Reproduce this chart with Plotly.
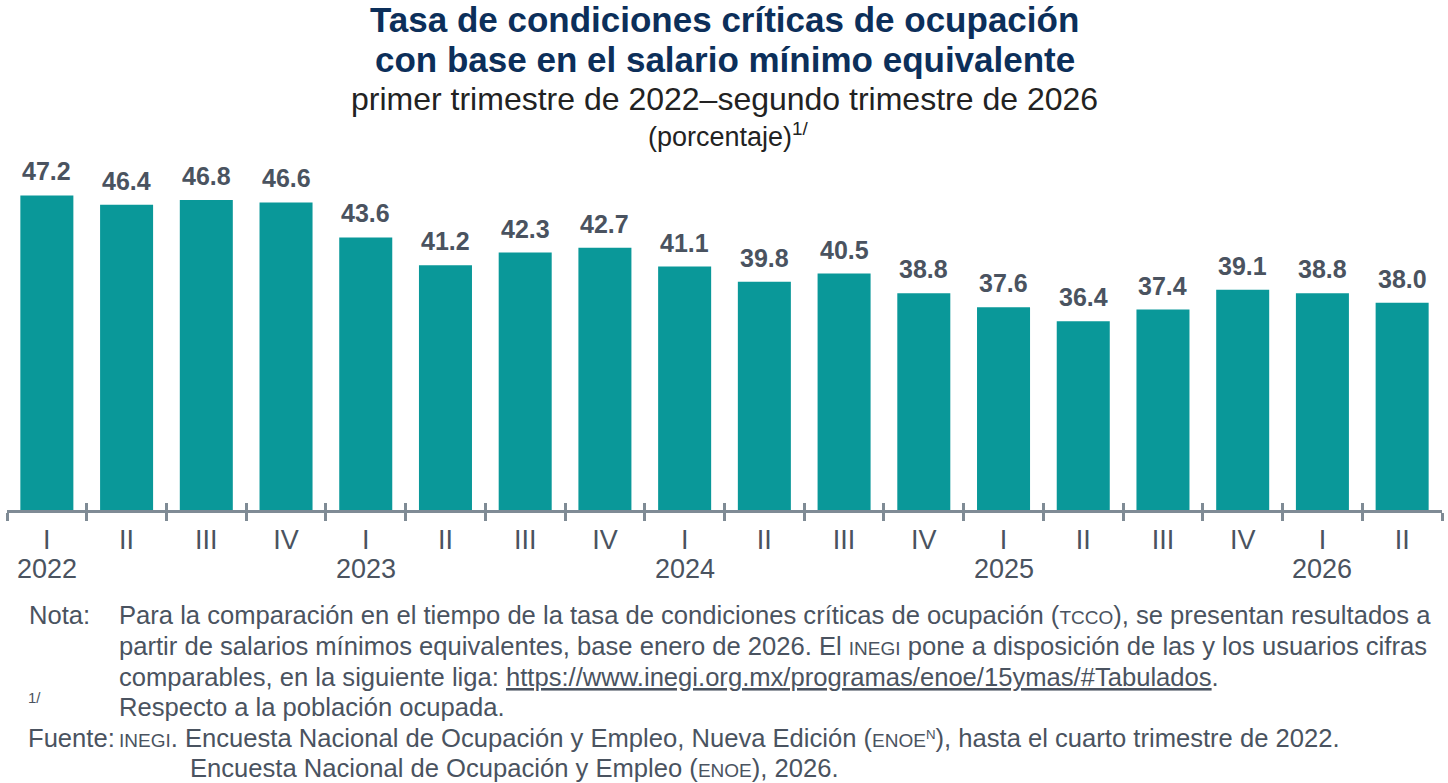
import plotly.graph_objects as go

quarters = ["I", "II", "III", "IV", "I", "II", "III", "IV", "I", "II", "III", "IV",
            "I", "II", "III", "IV", "I", "II"]
years = ["2022", "", "", "", "2023", "", "", "", "2024", "", "", "",
         "2025", "", "", "", "2026", ""]
values = [47.2, 46.4, 46.8, 46.6, 43.6, 41.2, 42.3, 42.7, 41.1, 39.8, 40.5, 38.8,
          37.6, 36.4, 37.4, 39.1, 38.8, 38.0]
year_of = ["2022"] * 4 + ["2023"] * 4 + ["2024"] * 4 + ["2025"] * 4 + ["2026"] * 2

categories = [f"{q} {y}" for q, y in zip(quarters, year_of)]

W, H = 1448, 783
L, R, T, B = 7, 6, 150, 273
PH = H - T - B
PW = W - L - R

BAR = "#0a9899"
AXIS = "#7f8b95"
TXT = "#4a5360"
NAVY = "#0c2f5a"
FONT = "Liberation Sans, Arial, sans-serif"


def py(p):
    return (H - B - p) / PH


def px(p):
    return (p - L) / PW


fig = go.Figure()
fig.add_trace(go.Bar(x=categories, y=values, marker=dict(color=BAR, line=dict(width=0)),
                     hoverinfo="x+y", showlegend=False))
fig.add_trace(go.Scatter(x=categories, y=values, xaxis="x2", mode="markers",
                         marker=dict(opacity=0), hoverinfo="skip", showlegend=False))

annotations = []
for c, v in zip(categories, values):
    annotations.append(dict(x=c, y=v, xref="x", yref="y", text=f"<b>{v:.1f}</b>",
                            showarrow=False, yanchor="bottom", yshift=8,
                            font=dict(family=FONT, size=25, color=TXT)))
for c, yr in zip(categories, years):
    if yr:
        annotations.append(dict(x=c, y=py(569), xref="x", yref="paper", text=yr,
                                showarrow=False, yanchor="middle",
                                font=dict(family=FONT, size=27, color=TXT)))


def add_text(text, x, y, size, color, xanchor="left", bold=False):
    annotations.append(dict(x=px(x), y=py(y), xref="paper", yref="paper",
                            text=(f"<b>{text}</b>" if bold else text), showarrow=False,
                            xanchor=xanchor, yanchor="middle",
                            font=dict(family=FONT, size=size, color=color)))


add_text("Tasa de condiciones críticas de ocupación", 725, 20, 35, NAVY, "center", True)
add_text("con base en el salario mínimo equivalente", 725, 59, 35, NAVY, "center", True)
add_text("primer trimestre de 2022–segundo trimestre de 2026", 725, 99, 32, "#222222", "center")
add_text("(porcentaje)<sup>1/</sup>", 728, 135, 27, "#222222", "center")

SC = '<span style="font-size:19px">'
NS = 25.6
add_text("Nota:", 27, 615, NS, TXT)
add_text("Para la comparación en el tiempo de la tasa de condiciones críticas de ocupación ("
         + SC + "TCCO</span>), se presentan resultados a", 117, 615, NS, TXT)
add_text("partir de salarios mínimos equivalentes, base enero de 2026. El " + SC
         + "INEGI</span> pone a disposición de las y los usuarios cifras", 117, 646, NS, TXT)
add_text("comparables, en la siguiente liga: <u>https://www.inegi.org.mx/programas/enoe/15ymas/#Tabulados</u>.",
         117, 677, NS, TXT)
add_text("1/", 26, 697, 15, TXT)
add_text("Respecto a la población ocupada.", 117, 707, NS, TXT)
add_text("Fuente:", 26, 738, NS, TXT)
add_text(SC + "INEGI</span>. Encuesta Nacional de Ocupación y Empleo, Nueva Edición ("
         + SC + "ENOE<sup>N</sup></span>), hasta el cuarto trimestre de 2022.", 117, 738, NS, TXT)
add_text("Encuesta Nacional de Ocupación y Empleo (" + SC + "ENOE</span>), 2026.",
         188, 768, NS, TXT)

fig.update_layout(
    width=W, height=H,
    margin=dict(l=L, r=R, t=T, b=B, pad=0),
    paper_bgcolor="white", plot_bgcolor="white",
    bargap=0.335,
    font=dict(family=FONT, color=TXT),
    xaxis=dict(type="category", categoryorder="array", categoryarray=categories,
               range=[-0.5, len(categories) - 0.5],
               tickmode="array", tickvals=categories, ticktext=quarters,
               tickson="boundaries", ticks="outside", ticklen=8, tickwidth=3, tickcolor=AXIS,
               showline=True, linecolor=AXIS, linewidth=3, showgrid=False, zeroline=False,
               ticklabelstandoff=4,
               tickfont=dict(family=FONT, size=27, color=TXT)),
    xaxis2=dict(type="category", overlaying="x", matches="x", anchor="y", side="bottom",
                categoryorder="array", categoryarray=categories,
                tickmode="array", tickvals=categories,
                tickson="boundaries", ticks="inside", ticklen=7, tickwidth=3, tickcolor=AXIS,
                showticklabels=False, showline=False, showgrid=False, zeroline=False),
    yaxis=dict(range=[20.2, 20.2 + PH / 11.65], visible=False, showgrid=False, zeroline=False),
    annotations=annotations,
)

fig.write_html("out.html", config={"displayModeBar": False},
               post_script="document.body.style.margin='0';document.body.style.overflow='hidden';")
